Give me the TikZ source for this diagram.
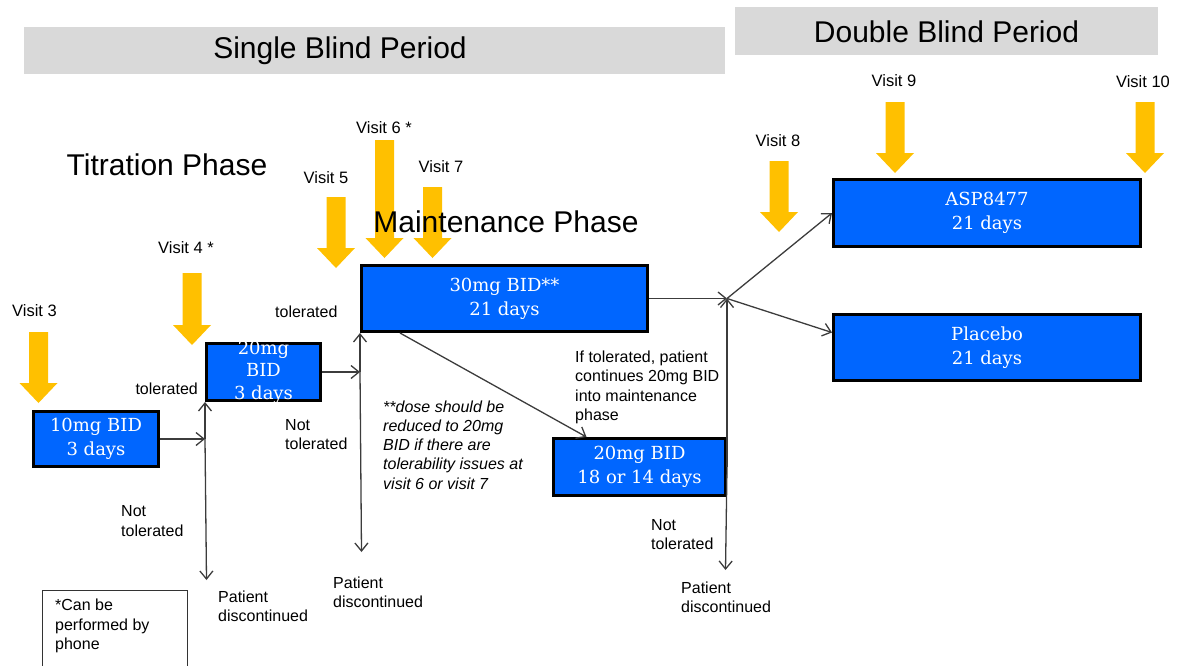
\documentclass[tikz,border=0pt]{standalone}
\usepackage{fontspec}
\setsansfont{Liberation Sans}
\newfontfamily\dosefont{DejaVu Serif}
\usetikzlibrary{arrows.meta}
\definecolor{doseblue}{RGB}{0,102,255}
\definecolor{visityellow}{RGB}{255,192,0}
\definecolor{bargray}{RGB}{217,217,217}
\definecolor{linegray}{RGB}{60,60,60}
\begin{document}
\begin{tikzpicture}[x=1pt,y=-1pt,
  dosebox/.style={draw=black,line width=3pt,fill=doseblue,inner sep=0pt},
  dosetext/.style={text=white,align=center,inner sep=0pt,font=\dosefont\fontsize{18}{24}\selectfont},
  flow/.style={draw=linegray,line width=1.3pt,-{Straight Barb[length=8pt,width=13pt]}},
  lbl/.style={align=left,inner sep=0pt,font=\sffamily\fontsize{16}{19.5}\selectfont},
  visitlbl/.style={inner sep=0pt,font=\sffamily\fontsize{16.5}{20}\selectfont},
  phase/.style={inner sep=0pt,font=\sffamily\fontsize{30}{36}\selectfont},
  periodbar/.style={fill=bargray,inner sep=0pt}]
  \useasboundingbox (0,0) rectangle (1177,665);
  \clip (0,0) rectangle (1177,665);

  % period headers
  \node[periodbar,minimum width=701,minimum height=47] (singlebar) at (374.5,50.5) {};
  \node[phase] (single) at (340,51) {Single Blind Period};
  \node[periodbar,minimum width=423,minimum height=48] (doublebar) at (946.5,31) {};
  \node[phase] (double) at (946.5,32) {Double Blind Period};

  % visits
  \foreach \vx/\vtop/\vtip/\lx/\ly/\vname [count=\i] in
    {38.5/332/403/34.5/311/Visit 3, 192/273/345/186/248/Visit 4 *,
     336/197/268/326/178/Visit 5, 384.5/140/258/384/128/Visit 6 *,
     432.5/187/258/441/167/Visit 7, 779/161/232/778/141/Visit 8,
     895/102/173/894/81/Visit 9, 1145/102/173/1143/82/Visit 10} {
    \fill[visityellow] (\vx-9.5,\vtop) -- (\vx+9.5,\vtop) -- (\vx+9.5,\vtip-20)
      -- (\vx+19,\vtip-20) -- (\vx,\vtip) -- (\vx-19,\vtip-20) -- (\vx-9.5,\vtip-20) -- cycle;
    \node[visitlbl] (visit\i) at (\lx,\ly) {\vname};
  }

  \node[phase] (titration) at (167,165) {Titration Phase};
  \node[phase] (maintenance) at (506,222) {Maintenance Phase};

  % dose boxes
  \node[dosebox,minimum width=125,minimum height=55] (dose10) at (96,439) {};
  \node[dosetext] at (dose10) {10mg BID\\3 days};
  \node[dosebox,minimum width=114,minimum height=57] (dose20a) at (263.5,372) {};
  \node[dosetext,font=\dosefont\fontsize{18}{22.5}\selectfont] at (dose20a) {20mg\\BID\\3 days};
  \node[dosebox,minimum width=286,minimum height=66] (dose30) at (504.5,298.5) {};
  \node[dosetext] at (dose30) {30mg BID**\\21 days};
  \node[dosebox,minimum width=172,minimum height=57] (dose20b) at (639.5,467) {};
  \node[dosetext] at (dose20b) {20mg BID\\18 or 14 days};
  \node[dosebox,minimum width=307,minimum height=67] (asp) at (987,213) {};
  \node[dosetext] at (asp) {ASP8477\\21 days};
  \node[dosebox,minimum width=307,minimum height=66] (placebo) at (987,347.5) {};
  \node[dosetext] at (placebo) {Placebo\\21 days};

  % junctions and stops
  \coordinate (j1) at (dose20a.south west |- dose10.east);
  \coordinate (j2) at (dose30.south west |- dose20a.east);
  \coordinate (j3) at (dose20b.east |- dose30.east);
  \coordinate (stop1) at (206.5,580);
  \coordinate (stop2) at (361.5,552);
  \coordinate (stop3) at (725.5,570);

  \draw[flow] (dose10.east) -- (j1);
  \draw[flow] (j1) -- (dose20a.south west);
  \draw[flow] (j1) -- (stop1);
  \draw[flow] (dose20a.east) -- (j2);
  \draw[flow] (j2) -- (dose30.south west);
  \draw[flow] (j2) -- (stop2);
  \draw[flow] ([xshift=40pt]dose30.south west) -- ([xshift=34.5pt]dose20b.north west);
  \draw[flow] (dose30.east) -- (j3);
  \draw[flow] (dose20b.east) -- (j3);
  \draw[flow] (dose20b.east) -- (stop3);
  \draw[flow] (j3) -- (asp.west);
  \draw[flow] (j3) -- ([yshift=15pt]placebo.west);

  % labels
  \node[lbl,anchor=east] (tol1) at (198,389) {tolerated};
  \node[lbl,anchor=west] (nottol1) at (121,521) {Not\\tolerated};
  \node[lbl,anchor=west] (stoptext1) at (218,606.5) {Patient\\discontinued};
  \node[lbl,anchor=west] (tol2) at (275,312) {tolerated};
  \node[lbl,anchor=west] (nottol2) at (285,434.5) {Not\\tolerated};
  \node[lbl,anchor=west] (stoptext2) at (333,592.5) {Patient\\discontinued};
  \node[lbl,anchor=west,font=\sffamily\itshape\fontsize{16}{19.2}\selectfont] (note) at (383,445)
    {**dose should be\\reduced to 20mg\\BID if there are\\tolerability issues at\\visit 6 or visit 7};
  \node[lbl,anchor=west] (iftol) at (575,387.5) {If tolerated, patient\\continues 20mg BID\\into maintenance\\phase};
  \node[lbl,anchor=west] (nottol3) at (651,534.5) {Not\\tolerated};
  \node[lbl,anchor=west] (stoptext3) at (681,597.5) {Patient\\discontinued};

  % legend
  \node[draw=black!80,line width=1.2pt,anchor=north west,minimum width=145,minimum height=100] (legend) at (42,590) {};
  \node[lbl,anchor=north west] (legendtext) at ([xshift=13pt,yshift=-9pt]legend.north west) {*Can be\\performed by\\phone};
\end{tikzpicture}
\end{document}
